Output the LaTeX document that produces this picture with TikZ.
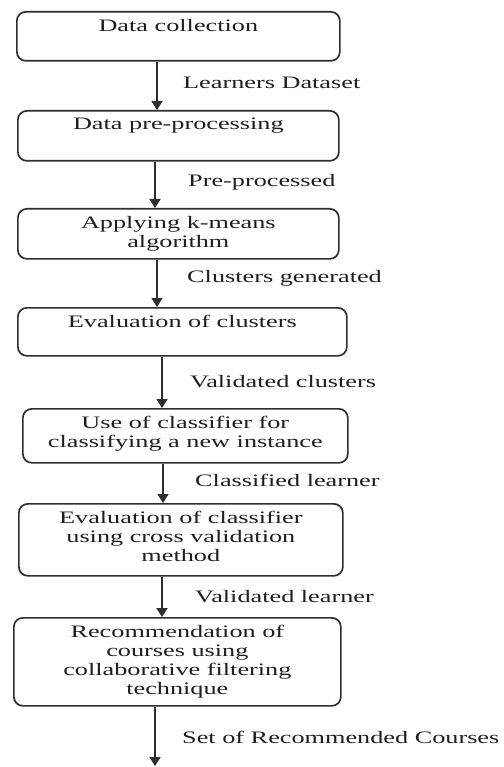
\documentclass[tikz,border=0pt]{standalone}
\usepackage{fontspec}
\setmainfont{Liberation Serif}[FakeStretch=1.5]
\usetikzlibrary{arrows.meta}

\definecolor{linegray}{HTML}{2E2E2E}
\definecolor{inkgray}{HTML}{1E1E1E}

\begin{document}
\begin{tikzpicture}[x=1pt,y=-1pt,
  stage/.style={draw=linegray, line width=1.7pt, rounded corners=9pt,
    anchor=north west, inner sep=0pt},
  stagetext/.style={anchor=north, align=center, inner xsep=0pt, inner ysep=8pt,
    text=inkgray, font=\fontsize{17.5}{19}\selectfont},
  flow/.style={draw=linegray, line width=1.7pt, -{Triangle[length=9pt,width=11pt]}},
  flowlabel/.style={anchor=west, inner sep=0pt, text=inkgray,
    font=\fontsize{17.5}{19}\selectfont}]

% canvas
\useasboundingbox (0,0) rectangle (503,767);

% process stages
\node[stage, minimum width=323pt, minimum height=49pt] (b1) at (16,11) {};
\node[stage, minimum width=321pt, minimum height=50pt] (b2) at (17,110) {};
\node[stage, minimum width=321pt, minimum height=50pt] (b3) at (17,208) {};
\node[stage, minimum width=329pt, minimum height=48pt] (b4) at (17,307) {};
\node[stage, minimum width=325pt, minimum height=54pt] (b5) at (22,408) {};
\node[stage, minimum width=324pt, minimum height=72pt] (b6) at (18,503) {};
\node[stage, minimum width=327pt, minimum height=88pt] (b7) at (13,617) {};

% stage captions
\node[stagetext] (t1) at (b1.north) {Data collection};
\node[stagetext] (t2) at (b2.north) {Data pre-processing};
\node[stagetext] (t3) at (b3.north) {Applying k-means\\algorithm};
\node[stagetext] (t4) at (b4.north) {Evaluation of clusters};
\node[stagetext] (t5) at (b5.north) {Use of classifier for\\classifying a new instance};
\node[stagetext] (t6) at (b6.north) {Evaluation of classifier\\using cross validation\\method};
\node[stagetext] (t7) at (b7.north) {Recommendation of\\courses using\\collaborative filtering\\technique};

% final output end point
\coordinate (out) at (155,766);

% connectors
\draw[flow] (157,0 |- b1.south) -- (157,0 |- b2.north);
\draw[flow] (155,0 |- b2.south) -- (155,0 |- b3.north);
\draw[flow] (157,0 |- b3.south) -- (157,0 |- b4.north);
\draw[flow] (162,0 |- b4.south) -- (162,0 |- b5.north);
\draw[flow] (163,0 |- b5.south) -- (163,0 |- b6.north);
\draw[flow] (162,0 |- b6.south) -- (162,0 |- b7.north);
\draw[flow] (155,0 |- b7.south) -- (out);

% connector labels
\node[flowlabel] (l1) at (183,83) {Learners Dataset};
\node[flowlabel] (l2) at (188,182) {Pre-processed};
\node[flowlabel] (l3) at (187,278) {Clusters generated};
\node[flowlabel] (l4) at (190,382) {Validated clusters};
\node[flowlabel] (l5) at (195,480) {Classified learner};
\node[flowlabel] (l6) at (195,597) {Validated learner};
\node[flowlabel] (l7) at (182,737) {Set of Recommended Courses};
\end{tikzpicture}
\end{document}
